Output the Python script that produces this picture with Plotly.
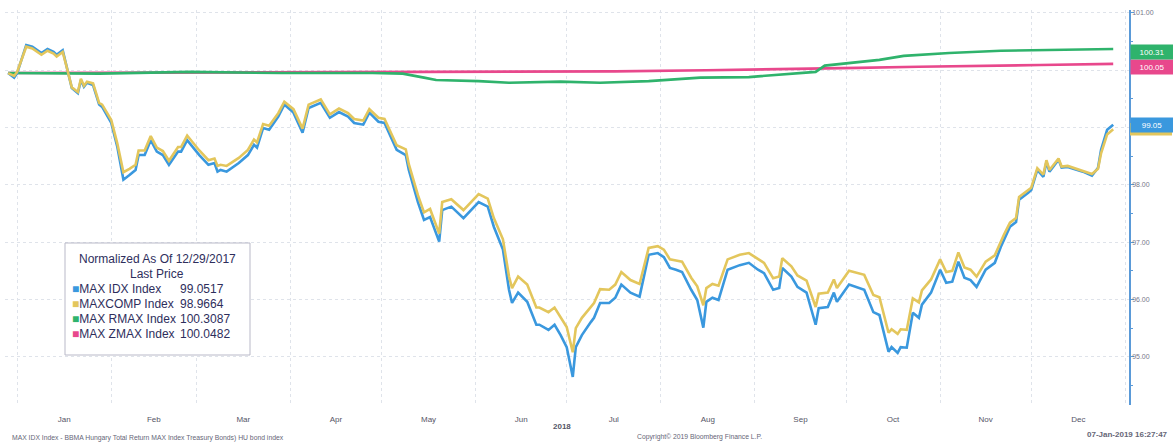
import pandas as pd
import plotly.graph_objects as go

START = "2017-12-29"

# ---- MAX IDX / MAXCOMP (day offset from 29-Dec-2017) ----
days_main = [0, 2, 3, 6, 8, 11, 13, 15, 16, 18, 19, 21, 23, 24, 25, 26, 28, 30, 31, 34,
             36, 38, 40, 42, 43, 45, 47, 49, 51, 53, 56, 57, 59, 62, 63, 66, 68, 69, 70, 72,
             74, 76, 79, 81, 82, 84, 86, 89, 91, 94, 97, 99, 103, 106, 109, 112, 114, 117, 119, 122,
             124, 127, 128, 131, 132, 135, 137, 139, 142, 143, 146, 150, 152, 155, 158, 160, 163, 165, 166, 168,
             171, 174, 175, 178, 180, 182, 184, 186, 187, 189, 192, 193, 195, 198, 200, 202, 205, 208, 211, 214,
             216, 218, 220, 222, 225, 227, 229, 230, 232, 234, 237, 241, 244, 247, 249, 252, 254, 255, 258, 260,
             263, 266, 267, 270, 272, 273, 277, 282, 285, 287, 290, 291, 293, 294, 296, 298, 300, 301, 304, 307,
             309, 311, 313, 315, 317, 319, 322, 325, 327, 328, 330, 332, 333, 336, 337, 339, 341, 342, 343, 346,
             347, 349, 352, 354, 357, 359, 360, 362, 364]

max_idx = [99.95, 99.87, 99.95, 100.44, 100.41, 100.30, 100.37, 100.32, 100.27, 100.35, 100.13, 99.69, 99.60, 99.83, 99.71, 99.78, 99.74, 99.40, 99.36, 99.08,
           98.66, 98.09, 98.17, 98.26, 98.52, 98.52, 98.78, 98.58, 98.52, 98.35, 98.58, 98.58, 98.78, 98.58, 98.52, 98.35, 98.38, 98.23, 98.26, 98.23,
           98.31, 98.38, 98.52, 98.70, 98.65, 98.99, 98.96, 99.19, 99.40, 99.26, 98.91, 99.34, 99.43, 99.17, 99.27, 99.19, 99.08, 99.05, 99.26, 99.10,
           99.08, 98.73, 98.61, 98.52, 98.26, 97.70, 97.39, 97.44, 97.01, 97.56, 97.62, 97.42, 97.53, 97.70, 97.62, 97.27, 96.87, 96.17, 95.94, 96.12,
           95.96, 95.56, 95.56, 95.47, 95.56, 95.38, 95.17, 94.65, 95.17, 95.38, 95.61, 95.68, 95.94, 95.94, 96.03, 96.26, 96.12, 96.05, 96.78, 96.81,
           96.74, 96.55, 96.52, 96.48, 96.17, 95.99, 95.51, 95.96, 96.03, 95.99, 96.52, 96.60, 96.64, 96.52, 96.46, 96.17, 96.20, 96.55, 96.40, 96.22,
           96.12, 95.56, 95.85, 95.87, 96.12, 95.96, 96.26, 96.17, 95.78, 95.73, 95.09, 95.17, 95.07, 95.17, 95.16, 95.77, 95.68, 95.91, 96.12, 96.52,
           96.29, 96.31, 96.66, 96.38, 96.34, 96.22, 96.52, 96.64, 96.92, 97.04, 97.27, 97.35, 97.74, 97.86, 97.91, 98.26, 98.14, 98.40, 98.23, 98.44,
           98.30, 98.31, 98.26, 98.23, 98.16, 98.30, 98.61, 98.96, 99.05]

maxcomp = [99.95, 99.90, 99.97, 100.41, 100.38, 100.27, 100.34, 100.29, 100.24, 100.32, 100.12, 99.70, 99.62, 99.85, 99.73, 99.80, 99.77, 99.43, 99.40, 99.13,
           98.72, 98.22, 98.28, 98.35, 98.60, 98.60, 98.85, 98.65, 98.59, 98.42, 98.66, 98.66, 98.86, 98.66, 98.60, 98.43, 98.46, 98.33, 98.35, 98.33,
           98.40, 98.47, 98.61, 98.79, 98.74, 99.06, 99.03, 99.25, 99.45, 99.32, 98.98, 99.40, 99.49, 99.23, 99.33, 99.25, 99.15, 99.12, 99.32, 99.17,
           99.15, 98.81, 98.69, 98.62, 98.36, 97.82, 97.52, 97.58, 97.15, 97.70, 97.75, 97.56, 97.67, 97.84, 97.76, 97.42, 97.05, 96.40, 96.20, 96.40,
           96.26, 95.86, 95.86, 95.78, 95.86, 95.70, 95.52, 95.08, 95.50, 95.68, 95.88, 95.94, 96.18, 96.17, 96.26, 96.48, 96.34, 96.27, 96.90, 96.93,
           96.87, 96.70, 96.68, 96.66, 96.38, 96.23, 95.90, 96.20, 96.27, 96.24, 96.70, 96.78, 96.81, 96.70, 96.64, 96.37, 96.40, 96.72, 96.58, 96.42,
           96.33, 95.87, 96.10, 96.12, 96.35, 96.20, 96.50, 96.43, 96.08, 96.04, 95.42, 95.48, 95.40, 95.48, 95.47, 96.02, 95.95, 96.16, 96.35, 96.70,
           96.48, 96.50, 96.82, 96.56, 96.52, 96.40, 96.66, 96.77, 97.02, 97.13, 97.34, 97.42, 97.79, 97.91, 97.95, 98.29, 98.18, 98.43, 98.26, 98.46,
           98.32, 98.33, 98.28, 98.25, 98.19, 98.28, 98.55, 98.88, 98.97]

# ---- MAX RMAX ----
days_rmax = [0, 15, 30, 60, 90, 120, 130, 137, 141, 155, 165, 182, 195, 211, 228, 244, 261, 266, 269, 274,
             287, 295, 310, 327, 343, 364]
rmax = [99.95, 99.94, 99.94, 99.97, 99.95, 99.95, 99.94, 99.87, 99.83, 99.81, 99.78, 99.80, 99.78, 99.81, 99.87, 99.88, 99.94, 99.97, 100.08, 100.11,
        100.18, 100.25, 100.30, 100.34, 100.35, 100.37]

# ---- MAX ZMAX ----
days_zmax = [0, 60, 120, 160, 200, 230, 260, 280, 300, 320, 340, 364]
zmax = [99.95, 99.96, 99.97, 99.97, 99.98, 100.00, 100.02, 100.04, 100.06, 100.08, 100.09, 100.11]

legend_names = ["MAX IDX Index", "MAXCOMP Index", "MAX RMAX Index", "MAX ZMAX Index"]
legend_values = ["99.0517", "98.9664", "100.3087", "100.0482"]
tag_values = [99.05, 98.97, 100.31, 100.05]
tag_texts = ["99.05", "98.97", "100.31", "100.05"]

y_tick_vals = [95, 96, 97, 98, 99, 100, 101]
y_tick_text = ["95.00", "96.00", "97.00", "98.00", "", "", "101.00"]

C_BLUE = "#3a98de"
C_YEL = "#e3c65c"
C_GRN = "#2fb36c"
C_PINK = "#e8488c"
colors = [C_BLUE, C_YEL, C_GRN, C_PINK]

start = pd.Timestamp(START)
def to_dates(d):
    return start + pd.to_timedelta(d, unit="D")

fig = go.Figure()
fig.add_trace(go.Scatter(x=to_dates(days_zmax), y=zmax, mode="lines",
                         line=dict(color=C_PINK, width=2.6), name=legend_names[3]))
fig.add_trace(go.Scatter(x=to_dates(days_rmax), y=rmax, mode="lines",
                         line=dict(color=C_GRN, width=2.6), name=legend_names[2]))
fig.add_trace(go.Scatter(x=to_dates(days_main), y=max_idx, mode="lines",
                         line=dict(color=C_BLUE, width=2.6), name=legend_names[0]))
fig.add_trace(go.Scatter(x=to_dates(days_main), y=maxcomp, mode="lines",
                         line=dict(color=C_YEL, width=2.6), name=legend_names[1]))

# plot geometry in pixels (for paper-coordinate annotations)
L, R, T, B = 5, 44, 10, 41
W, H = 1173, 446
PW, PH = W - L - R, H - T - B
def px(x):
    return (x - L) / PW
def py(y):
    return (H - B - y) / PH

fig.update_layout(
    width=W, height=H,
    margin=dict(l=L, r=R, t=T, b=B),
    paper_bgcolor="white", plot_bgcolor="white",
    showlegend=False,
    font=dict(family="Liberation Sans, Arial, sans-serif", color="#555566"),
)
fig.update_xaxes(
    range=[start - pd.Timedelta(days=1), start + pd.Timedelta(days=369.2)],
    dtick="M1", tickformat="%b", ticklabelmode="period",
    showgrid=True, gridcolor="#dfe3ea", griddash="dot", gridwidth=1,
    showline=False, zeroline=False, ticks="",
    ticklabelstandoff=8,
    tickfont=dict(size=8, color="#555566"),
    automargin=False,
)
fig.update_yaxes(
    side="right", range=[94.16, 101.05],
    tickvals=y_tick_vals, ticktext=y_tick_text,
    showgrid=True, gridcolor="#dfe3ea", griddash="dot", gridwidth=1,
    showline=True, linecolor="#5a9ad8", linewidth=1.5,
    ticks="outside", ticklen=3, tickcolor="#5a9ad8",
    minor=dict(dtick=0.5, ticks="outside", ticklen=2, tickcolor="#5a9ad8", showgrid=False),
    tickfont=dict(size=7, color="#777788"),
    ticklabelstandoff=-3,
    zeroline=False, automargin=False,
)

ann = []
# yellow tag (mostly hidden behind the blue one, as in the reference)
fig.add_shape(type="rect", xref="paper", yref="y", x0=1.0 + 1 / PW, x1=1.0 + 43 / PW,
              y0=tag_values[1] - 0.11, y1=tag_values[1] + 0.11,
              line=dict(width=0), fillcolor=C_YEL, layer="above")
for i in [0, 3, 2]:
    ann.append(dict(xref="paper", yref="y", x=1.0, y=tag_values[i], xanchor="left", yanchor="middle",
                    xshift=1, text=tag_texts[i], showarrow=False, bgcolor=colors[i],
                    width=40, height=12, borderpad=1,
                    font=dict(size=8, color="white")))

# legend box
fig.add_shape(type="rect", xref="paper", yref="paper",
              x0=px(65), x1=px(250), y0=py(355), y1=py(243),
              line=dict(color="#b9b9c8", width=1), fillcolor="white", layer="above")
LC = "#2e2e5c"
ann.append(dict(xref="paper", yref="paper", x=px(157), y=py(259), text="Normalized As Of 12/29/2017",
                showarrow=False, xanchor="center", yanchor="middle", font=dict(size=12, color=LC)))
ann.append(dict(xref="paper", yref="paper", x=px(157), y=py(274), text="Last Price",
                showarrow=False, xanchor="center", yanchor="middle", font=dict(size=12, color=LC)))
rows_y = [289, 304, 319, 334]
for i in range(4):
    ann.append(dict(xref="paper", yref="paper", x=px(70), y=py(rows_y[i]),
                    text=f"<span style='color:{colors[i]}'>■</span>{legend_names[i]}",
                    showarrow=False, xanchor="left", yanchor="middle", font=dict(size=12, color=LC)))
    ann.append(dict(xref="paper", yref="paper", x=px(178), y=py(rows_y[i]),
                    text=legend_values[i],
                    showarrow=False, xanchor="left", yanchor="middle", font=dict(size=12, color=LC)))

# year label and footer
ann.append(dict(xref="paper", yref="paper", x=px(562), y=py(426), text="<b>2018</b>",
                showarrow=False, xanchor="center", yanchor="middle", font=dict(size=8, color="#555566")))
ann.append(dict(xref="paper", yref="paper", x=px(10), y=py(438),
                text="MAX IDX Index - BBMA Hungary Total Return MAX Index Treasury Bonds) HU bond index",
                showarrow=False, xanchor="left", yanchor="middle", font=dict(size=6.8, color="#666677")))
ann.append(dict(xref="paper", yref="paper", x=px(635), y=py(437),
                text="Copyright© 2019 Bloomberg Finance L.P.",
                showarrow=False, xanchor="left", yanchor="middle", font=dict(size=6.8, color="#666677")))
ann.append(dict(xref="paper", yref="paper", x=px(1170), y=py(434),
                text="<b>07-Jan-2019 16:27:47</b>",
                showarrow=False, xanchor="right", yanchor="middle", font=dict(size=8, color="#666677")))

fig.update_layout(annotations=ann)
fig.write_html("out.html", config={"displayModeBar": False},
               post_script="document.body.style.margin='0px';document.body.style.overflow='hidden';")
